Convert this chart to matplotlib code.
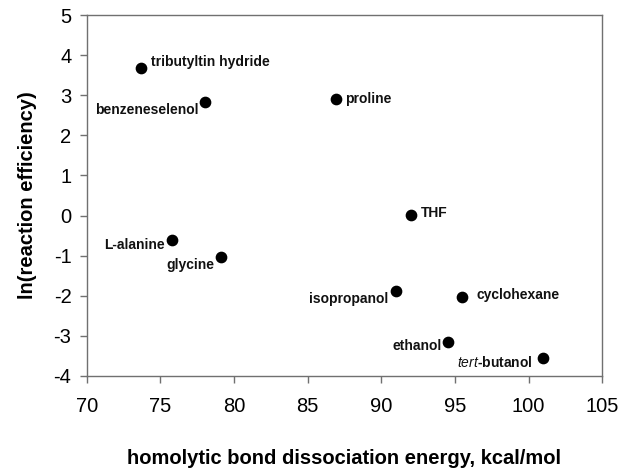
import matplotlib
matplotlib.use('Agg')
from matplotlib import pyplot as plt

plt.rcParams['font.family'] = ['Liberation Sans', 'DejaVu Sans']
plt.rcParams['axes.unicode_minus'] = False
plt.rcParams['mathtext.fontset'] = 'custom'
plt.rcParams['mathtext.it'] = 'Liberation Sans:italic'
plt.rcParams['mathtext.rm'] = 'Liberation Sans:bold'

# data
names = ['tributyltin hydride', 'benzeneselenol', 'proline', 'THF', 'L-alanine',
         'glycine', 'isopropanol', 'cyclohexane', 'ethanol', 'tert-butanol']
bde = [73.7, 78.0, 86.95, 92.0, 75.8, 79.1, 91.0, 95.5, 94.5, 101.0]
ln_eff = [3.67, 2.84, 2.90, 0.01, -0.60, -1.03, -1.88, -2.03, -3.14, -3.54]

# label placement: offset in pixels and alignment
offsets = [(10, 6), (-6, -8), (9, 0), (10, 2), (-7, -5),
           (-6, -8), (-8, -8), (14, 2), (-6, -4), (-10, -5)]
aligns = ['left', 'right', 'left', 'left', 'right',
          'right', 'right', 'left', 'right', 'right']

fig = plt.figure(figsize=(6.24, 4.71), dpi=100)
ax = fig.add_axes([0.139, 0.2017, 0.826, 0.7664])

ax.scatter(bde, ln_eff, s=55, color='black', zorder=3)

for name, x, y, off, ha in zip(names, bde, ln_eff, offsets, aligns):
    label = name
    if name == 'tert-butanol':
        label = r'$\it{tert}$' + '-butanol'
    ax.annotate(label, (x, y), xytext=off, textcoords='offset pixels',
                ha=ha, va='center', fontsize=10, fontweight='bold', color='#111111')

ax.set_xlim(70, 105)
ax.set_ylim(-4, 5)
ax.set_xticks(range(70, 106, 5))
ax.set_yticks(range(-4, 6))
ax.tick_params(direction='out', length=5, width=1, color='#707070', labelsize=14.5)
ax.tick_params(axis='x', pad=10)
ax.tick_params(axis='y', pad=6)

for sp in ax.spines.values():
    sp.set_color('#707070')
    sp.set_linewidth(1)

ax.set_xlabel('homolytic bond dissociation energy, kcal/mol', fontsize=14.5,
              fontweight='bold', labelpad=24)
ax.set_ylabel('ln(reaction efficiency)', fontsize=14.5, fontweight='bold', labelpad=12)

fig.savefig('out.png', dpi=100)
